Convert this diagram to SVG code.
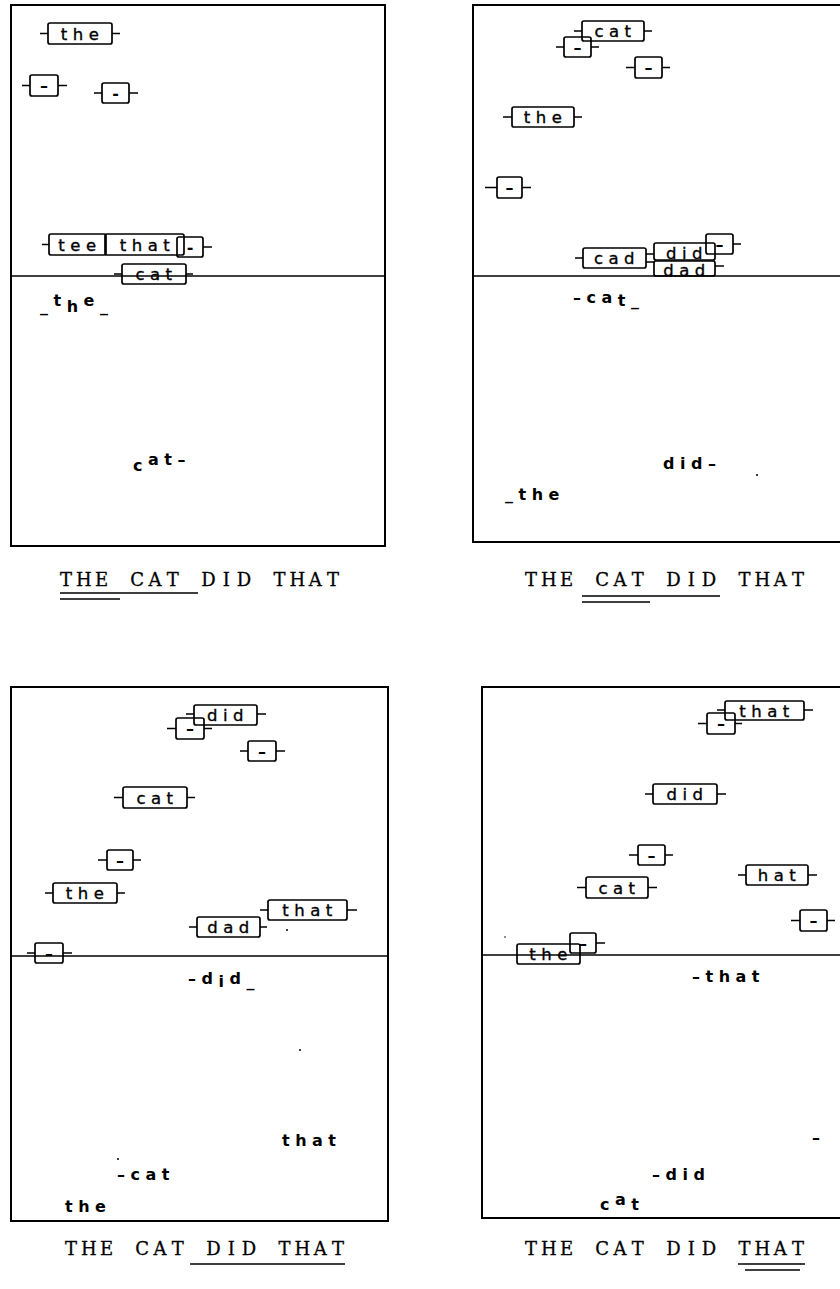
<svg xmlns="http://www.w3.org/2000/svg" width="840" height="1289" viewBox="0 0 840 1289">
<style>
.frame{fill:none;stroke:#000;stroke-width:2}
.mid{fill:none;stroke:#000;stroke-width:1.6}
.box{fill:none;stroke:#000;stroke-width:1.7}
.stub{fill:none;stroke:#000;stroke-width:1.5}
.bt{font-family:"DejaVu Sans",sans-serif;font-size:16.5px;letter-spacing:5.5px;text-anchor:middle;fill:#000;stroke:#000;stroke-width:0.35}
.dt{font-family:"DejaVu Sans",sans-serif;font-size:16px;font-weight:bold;text-anchor:middle;fill:#000}
.lt{font-family:"DejaVu Sans",sans-serif;font-size:16px;font-weight:bold;letter-spacing:5.5px;fill:#000}
.cap{font-family:"DejaVu Serif",serif;font-size:18px;text-anchor:middle;fill:#000;stroke:#000;stroke-width:0.3}
.ul{stroke:#000;stroke-width:1.6}
.dot{fill:#000}
</style>
<rect width="840" height="1289" fill="#fff"/>

<!-- Panel 1 -->
<g id="panel1">
<rect class="frame" x="11" y="5" width="374" height="541"/>
<path class="mid" d="M11 276H385"/>
<g id="p1-the"><rect class="box" x="48" y="23" width="64" height="21" rx="2"/><path class="stub" d="M40 33.5H48M112 33.5H120"/><text class="bt" x="82.5" y="39.5">the</text></g>
<g id="p1-d1"><rect class="box" x="30" y="75" width="28" height="21" rx="2"/><path class="stub" d="M22 85.5H30M58 85.5H67"/><text class="dt" x="44" y="91">–</text></g>
<g id="p1-d2"><rect class="box" x="102" y="83" width="27" height="20" rx="2"/><path class="stub" d="M94 93H102M129 93H138"/><text class="dt" x="115.5" y="98.5">-</text></g>
<g id="p1-tee"><rect class="box" x="49" y="234" width="57" height="21" rx="2"/><path class="stub" d="M42 244.5H49"/><text class="bt" x="80" y="250.5">tee</text></g>
<g id="p1-that"><rect class="box" x="105" y="234" width="79" height="21" rx="2"/><text class="bt" x="147.5" y="250.5">that</text></g>
<g id="p1-d3"><rect class="box" x="177" y="237" width="26" height="20" rx="2"/><path class="stub" d="M203 247H212"/><text class="dt" x="190" y="252.5">-</text></g>
<g id="p1-cat"><rect class="box" x="122" y="264" width="64" height="20" rx="2"/><path class="stub" d="M114 274H122M186 274H193"/><text class="bt" x="156.5" y="280">cat</text></g>
<text class="lt" x="40" y="312">_<tspan dy="-6">t</tspan><tspan dy="6">h</tspan><tspan dy="-6">e</tspan><tspan dy="6">_</tspan></text>
<text class="lt" x="133" y="471">c<tspan dy="-6">at–</tspan></text>
<text class="cap" x="66 83.8 101.6 119.4 137.2 155 172.8 190.6 208.4 226.2 244 261.8 279.6 297.4 315.2 333" y="586">THE CAT DID THAT</text>
<path class="ul" d="M60 593H198M60 599H120"/>
</g>

<!-- Panel 2 -->
<g id="panel2">
<path class="frame" d="M840 5H473V542H840"/>
<path class="mid" d="M473 276H840"/>
<g id="p2-cat"><rect class="box" x="582" y="21" width="62" height="20" rx="2"/><path class="stub" d="M574 31H582M644 31H652"/><text class="bt" x="615.5" y="37">cat</text></g>
<g id="p2-d1"><rect class="box" x="564" y="37" width="27" height="20" rx="2"/><path class="stub" d="M556 47H564M591 47H599"/><text class="dt" x="577.5" y="52.5">–</text></g>
<g id="p2-d2"><rect class="box" x="635" y="57" width="27" height="21" rx="2"/><path class="stub" d="M626 67.5H635M662 67.5H670"/><text class="dt" x="648.5" y="73">–</text></g>
<g id="p2-the"><rect class="box" x="512" y="107" width="62" height="20" rx="2"/><path class="stub" d="M503 117H512M574 117H582"/><text class="bt" x="545.5" y="123">the</text></g>
<g id="p2-d3"><rect class="box" x="497" y="177" width="25" height="21" rx="2"/><path class="stub" d="M485 187.5H497M522 187.5H531"/><text class="dt" x="509.5" y="193">–</text></g>
<g id="p2-cad"><rect class="box" x="583" y="248" width="63" height="20" rx="2"/><path class="stub" d="M575 258H583M646 254H654M646 262H654"/><text class="bt" x="617" y="264">cad</text></g>
<g id="p2-did"><rect class="box" x="654" y="243" width="61" height="17" rx="2"/><text class="bt" x="687" y="259">did</text></g>
<g id="p2-dad"><rect class="box" x="654" y="261" width="61" height="15" rx="2"/><path class="stub" d="M715 266H724"/><text class="bt" x="687" y="276">dad</text></g>
<g id="p2-d4"><rect class="box" x="706" y="234" width="27" height="20" rx="2"/><path class="stub" d="M733 244H741"/><text class="dt" x="719.5" y="249.5">–</text></g>
<text class="lt" x="573" y="303">–ca<tspan dy="3">t_</tspan></text>
<text class="lt" x="663" y="469">did–</text>
<circle class="dot" cx="757" cy="475" r="1"/>
<text class="lt" x="505" y="500">_the</text>
<text class="cap" x="531 548.8 566.6 584.4 602.2 620 637.8 655.6 673.4 691.2 709 726.8 744.6 762.4 780.2 798" y="586">THE CAT DID THAT</text>
<path class="ul" d="M582 596H720M582 602H650"/>
</g>

<!-- Panel 3 -->
<g id="panel3">
<rect class="frame" x="11" y="687" width="377" height="534"/>
<path class="mid" d="M11 956H388"/>
<g id="p3-did"><rect class="box" x="194" y="705" width="63" height="20" rx="2"/><path class="stub" d="M186 714H194M257 714H266"/><text class="bt" x="228" y="721">did</text></g>
<g id="p3-d1"><rect class="box" x="176" y="718" width="28" height="21" rx="2"/><path class="stub" d="M167 728.5H176M204 728.5H212"/><text class="dt" x="190" y="734">–</text></g>
<g id="p3-d2"><rect class="box" x="248" y="741" width="28" height="20" rx="2"/><path class="stub" d="M240 751H248M276 751H285"/><text class="dt" x="262" y="756.5">–</text></g>
<g id="p3-cat"><rect class="box" x="123" y="787" width="64" height="21" rx="2"/><path class="stub" d="M114 797.5H123M187 797.5H195"/><text class="bt" x="157.5" y="803.5">cat</text></g>
<g id="p3-d3"><rect class="box" x="107" y="850" width="26" height="20" rx="2"/><path class="stub" d="M98 860H107M133 860H141"/><text class="dt" x="120" y="865.5">–</text></g>
<g id="p3-the"><rect class="box" x="53" y="883" width="64" height="20" rx="2"/><path class="stub" d="M45 893H53M117 893H125"/><text class="bt" x="87.5" y="899">the</text></g>
<g id="p3-dad"><rect class="box" x="197" y="917" width="63" height="20" rx="2"/><path class="stub" d="M189 927H197M260 927H267"/><text class="bt" x="231" y="933">dad</text></g>
<g id="p3-that"><rect class="box" x="268" y="900" width="79" height="20" rx="2"/><path class="stub" d="M260 910H268M347 910H357"/><text class="bt" x="310" y="916">that</text></g>
<g id="p3-d4"><rect class="box" x="35" y="943" width="28" height="20" rx="2"/><path class="stub" d="M27 953H35M63 953H72"/><text class="dt" x="49" y="958.5">–</text></g>
<circle class="dot" cx="287" cy="930" r="1"/>
<text class="lt" x="188" y="984">–d<tspan dy="3">i</tspan><tspan dy="-3">d</tspan><tspan dy="3">_</tspan></text>
<circle class="dot" cx="300" cy="1050" r="1"/>
<text class="lt" x="282" y="1146">that</text>
<circle class="dot" cx="118" cy="1159" r="1"/>
<text class="lt" x="117" y="1180">–cat</text>
<text class="lt" x="65" y="1212">the</text>
<text class="cap" x="71 88.8 106.6 124.4 142.2 160 177.8 195.6 213.4 231.2 249 266.8 284.6 302.4 320.2 338" y="1255">THE CAT DID THAT</text>
<path class="ul" d="M190 1264H345"/>
</g>

<!-- Panel 4 -->
<g id="panel4">
<path class="frame" d="M840 687H482V1218H840"/>
<path class="mid" d="M482 955H840"/>
<g id="p4-that"><rect class="box" x="725" y="701" width="79" height="19" rx="2"/><path class="stub" d="M717 710H725M804 710H813"/><text class="bt" x="767" y="716.5">that</text></g>
<g id="p4-d1"><rect class="box" x="707" y="713" width="28" height="21" rx="2"/><path class="stub" d="M698 723.5H707M735 723.5H742"/><text class="dt" x="721" y="729">–</text></g>
<g id="p4-did"><rect class="box" x="653" y="784" width="64" height="20" rx="2"/><path class="stub" d="M645 794H653M717 794H726"/><text class="bt" x="687.5" y="800">did</text></g>
<g id="p4-d2"><rect class="box" x="638" y="845" width="27" height="20" rx="2"/><path class="stub" d="M629 855H638M665 855H673"/><text class="dt" x="651.5" y="860.5">–</text></g>
<g id="p4-cat"><rect class="box" x="586" y="877" width="62" height="21" rx="2"/><path class="stub" d="M577 887.5H586M648 887.5H657"/><text class="bt" x="619.5" y="893.5">cat</text></g>
<g id="p4-hat"><rect class="box" x="746" y="865" width="62" height="20" rx="2"/><path class="stub" d="M738 875H746M808 875H817"/><text class="bt" x="779.5" y="881">hat</text></g>
<g id="p4-d3"><rect class="box" x="800" y="910" width="27" height="21" rx="2"/><path class="stub" d="M791 920.5H800M827 920.5H835"/><text class="dt" x="813.5" y="926">–</text></g>
<g id="p4-the"><rect class="box" x="517" y="944" width="63" height="20" rx="2"/><text class="bt" x="551" y="960">the</text></g>
<g id="p4-d4"><rect class="box" x="570" y="933" width="26" height="20" rx="2"/><path class="stub" d="M596 943H605"/><text class="dt" x="583" y="948.5">–</text></g>
<circle class="dot" cx="505" cy="937" r="0.8"/>
<text class="lt" x="692" y="982">–that</text>
<text class="lt" x="812" y="1143">–</text>
<text class="lt" x="652" y="1180">–did</text>
<text class="lt" x="600" y="1210">c<tspan dy="-5">a</tspan><tspan dy="5">t</tspan></text>
<text class="cap" x="531 548.8 566.6 584.4 602.2 620 637.8 655.6 673.4 691.2 709 726.8 744.6 762.4 780.2 798" y="1255">THE CAT DID THAT</text>
<path class="ul" d="M738 1264H805M745 1270H800"/>
</g>
</svg>
